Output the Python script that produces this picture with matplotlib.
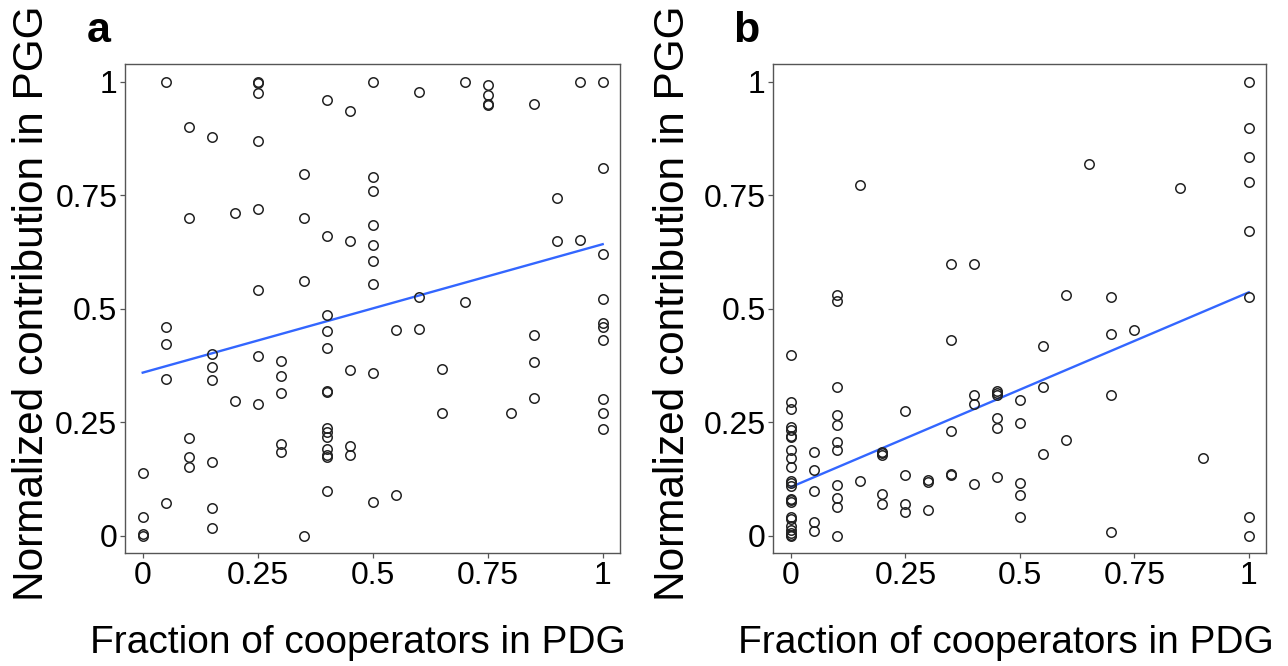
import matplotlib
matplotlib.use("Agg")
import matplotlib.pyplot as plt

plt.rcParams['font.family'] = ['Liberation Sans', 'DejaVu Sans']

# ---------------- data: panel a ----------------
a_groups = {
    0.00: [0.137, 0.04, 0.003, 0.0],
    0.05: [1.0, 0.46, 0.422, 0.344, 0.071],
    0.10: [0.9, 0.70, 0.216, 0.174, 0.152],
    0.15: [0.878, 0.40, 0.372, 0.342, 0.162, 0.06, 0.016],
    0.20: [0.71, 0.297],
    0.25: [1.0, 0.998, 0.975, 0.869, 0.72, 0.542, 0.396, 0.29],
    0.30: [0.385, 0.352, 0.314, 0.202, 0.184],
    0.35: [0.797, 0.70, 0.562, 0.0],
    0.40: [0.96, 0.659, 0.486, 0.45, 0.414, 0.319, 0.316, 0.237, 0.229,
           0.218, 0.19, 0.178, 0.174, 0.099],
    0.45: [0.936, 0.65, 0.364, 0.198, 0.178],
    0.50: [1.0, 0.789, 0.76, 0.684, 0.64, 0.604, 0.555, 0.358, 0.075],
    0.55: [0.454, 0.09],
    0.60: [0.977, 0.525, 0.456],
    0.65: [0.366, 0.27],
    0.70: [1.0, 0.515],
    0.75: [0.993, 0.97, 0.95, 0.948],
    0.80: [0.27],
    0.85: [0.95, 0.442, 0.382, 0.304],
    0.90: [0.744, 0.65],
    0.95: [1.0, 0.652],
    1.00: [1.0, 0.809, 0.62, 0.522, 0.469, 0.46, 0.431, 0.30, 0.27, 0.235],
}
a_fit_x = [0.0, 1.0]
a_fit_y = [0.359, 0.642]

# ---------------- data: panel b ----------------
b_groups = {
    0.00: [0.398, 0.294, 0.278, 0.24, 0.233, 0.22, 0.217, 0.189, 0.172, 0.151,
           0.121, 0.116, 0.11, 0.081, 0.078, 0.075, 0.042, 0.037, 0.022,
           0.013, 0.006, 0.002, 0.0],
    0.05: [0.185, 0.144, 0.099, 0.031, 0.01],
    0.10: [0.53, 0.516, 0.328, 0.266, 0.243, 0.207, 0.189, 0.111, 0.082,
           0.064, 0.0],
    0.15: [0.773, 0.121],
    0.20: [0.185, 0.182, 0.178, 0.091, 0.069],
    0.25: [0.275, 0.133, 0.069, 0.051],
    0.30: [0.123, 0.119, 0.057],
    0.35: [0.598, 0.431, 0.231, 0.136, 0.134],
    0.40: [0.599, 0.31, 0.289, 0.114],
    0.45: [0.319, 0.314, 0.309, 0.259, 0.238, 0.13],
    0.50: [0.299, 0.248, 0.116, 0.089, 0.04],
    0.55: [0.418, 0.328, 0.18],
    0.60: [0.53, 0.21],
    0.65: [0.819],
    0.70: [0.525, 0.444, 0.31, 0.008],
    0.75: [0.454],
    0.85: [0.765],
    0.90: [0.171],
    1.00: [1.0, 0.899, 0.834, 0.78, 0.671, 0.526, 0.04, 0.0],
}
b_fit_x = [0.0, 1.0]
b_fit_y = [0.107, 0.536]

tick_vals = [0, 0.25, 0.5, 0.75, 1]
tick_labels = ["0", "0.25", "0.5", "0.75", "1"]
xlabel = "Fraction of cooperators in PDG"
ylabel = "Normalized contribution in PGG"

W, H = 1288, 666
fig = plt.figure(figsize=(W / 100, H / 100), dpi=100)


def flatten(groups):
    xs, ys = [], []
    for x, vals in groups.items():
        for v in vals:
            xs.append(x)
            ys.append(v)
    return xs, ys


def make_panel(rect, groups, fx, fy):
    ax = fig.add_axes(rect)
    xs, ys = flatten(groups)
    ax.plot(xs, ys, linestyle='none', marker='o', markersize=6.8,
            markerfacecolor='none', markeredgecolor='#222222',
            markeredgewidth=1.1, zorder=3)
    ax.plot(fx, fy, color='#3366FF', linewidth=1.7, zorder=2)
    ax.set_xlim(-0.0385, 1.0385)
    ax.set_ylim(-0.039, 1.039)
    ax.set_xticks(tick_vals)
    ax.set_xticklabels(tick_labels)
    ax.set_yticks(tick_vals)
    ax.set_yticklabels(tick_labels)
    ax.tick_params(axis='both', direction='out', length=3.5, width=0.9,
                   color='#555555', labelsize=23, labelcolor='black', pad=2)
    for s in ax.spines.values():
        s.set_color('#555555')
        s.set_linewidth(1.0)
    return ax


def rect_px(left, top, right, bottom):
    return [left / W, 1 - bottom / H, (right - left) / W, (bottom - top) / H]


ax_a = make_panel(rect_px(125, 64, 620.4, 553.3), a_groups, a_fit_x, a_fit_y)
ax_b = make_panel(rect_px(773.3, 64, 1266.4, 553.3), b_groups, b_fit_x, b_fit_y)

# axis titles
for xc in (358, 1006):
    fig.text(xc / W, 1 - 653 / H, xlabel, fontsize=28, ha='center',
             va='baseline')
for xb in (43, 684):
    fig.text(xb / W, 1 - 303 / H, ylabel, fontsize=30.5, rotation=90,
             rotation_mode='anchor', ha='center', va='baseline')

# panel letters
fig.text(87 / W, 1 - 42 / H, "a", fontsize=31, fontweight='bold',
         ha='left', va='baseline')
fig.text(733 / W, 1 - 42 / H, "b", fontsize=31, fontweight='bold',
         ha='left', va='baseline')

fig.savefig("out.png", dpi=100)
